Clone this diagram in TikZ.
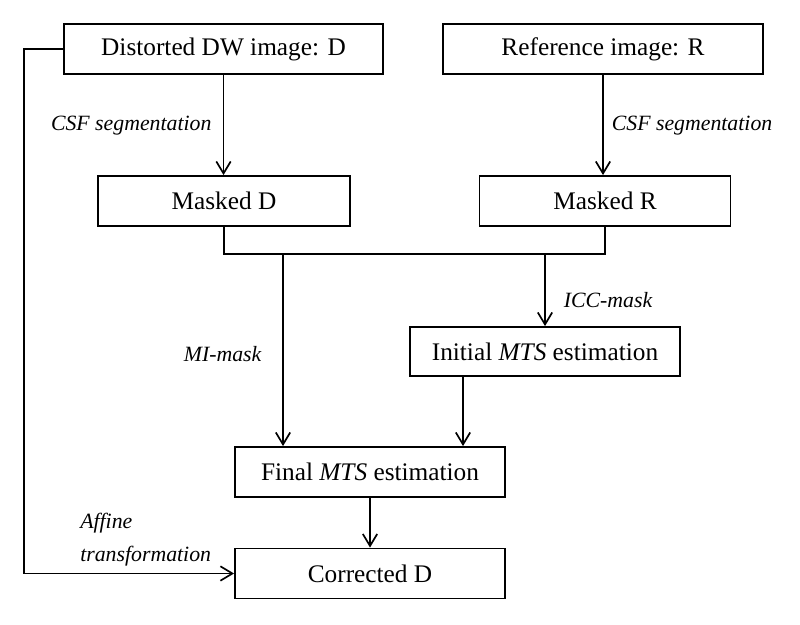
\documentclass[tikz,border=0pt]{standalone}
\usepackage{fontspec}
\setmainfont{Liberation Serif}
\usepackage{tikz}
\usetikzlibrary{arrows.meta, positioning, calc}
\tikzstyle{block} = [draw, rectangle, line width=1.3pt, minimum height=1.25cm, align=center, font=\fontsize{18}{22}\selectfont]
\tikzstyle{lbl} = [inner sep=0pt, font=\fontsize{15.5}{19}\selectfont\itshape]
\tikzstyle{wire} = [-{Straight Barb[length=3mm,width=3.6mm]}, line width=1.2pt]
\tikzstyle{line} = [line width=1.2pt]

\begin{document}
\begin{tikzpicture}[x=0.025cm, y=-0.025cm]
    \useasboundingbox (0,0) rectangle (800,624);
    % top row
    \node[block, minimum width=7.975cm] (dist) at (223.5,49) {Distorted DW image: D};
    \node[block, minimum width=8cm] (ref) at (603,49) {Reference image: R};
    % masked images
    \node[block, minimum width=6.3cm] (maskd) at (224,201) {Masked D};
    \node[block, minimum width=6.275cm] (maskr) at (605,201) {Masked R};
    % estimation steps
    \node[block, minimum width=6.75cm, minimum height=1.225cm] (init) at (545,351.5) {Initial \textit{MTS} estimation};
    \node[block, minimum width=6.75cm] (final) at (370,472) {Final \textit{MTS} estimation};
    \node[block, minimum width=6.75cm] (corr) at (370,573.5) {Corrected D};
    \coordinate (jn) at (0,254);
    \coordinate (mi) at (283,254);
    \coordinate (icc) at (545,254);
    \coordinate (ie) at (463,0);
    \coordinate (lft) at (24,0);
    \draw[wire] (dist.south) -- node[lbl, pos=0.51, left=0.28cm] {CSF segmentation} (dist.south |- maskd.north);
    \draw[wire] (ref.south) -- node[lbl, pos=0.51, right=0.2cm] {CSF segmentation} (ref.south |- maskr.north);
    \draw[line] (maskd.south) -- (maskd.south |- jn) -- (maskr.south |- jn) -- (maskr.south);
    \draw[wire] (mi) -- node[lbl, pos=0.52, left=0.52cm] {MI-mask} (mi |- final.north);
    \draw[wire] (icc) -- node[lbl, pos=0.64, right=0.45cm] {ICC-mask} (init.north);
    \draw[wire] (init.south -| ie) -- (final.north -| ie);
    \draw[wire] (final) -- (corr);
    \draw[wire] (dist.west) -- (dist.west -| lft) -- (lft |- corr.west) -- (corr.west);
    \node[lbl, anchor=west, align=left, font=\fontsize{15.5}{23.4}\selectfont\itshape] (aff) at (80,540) {Affine\\transformation};
  \end{tikzpicture}
\end{document}
